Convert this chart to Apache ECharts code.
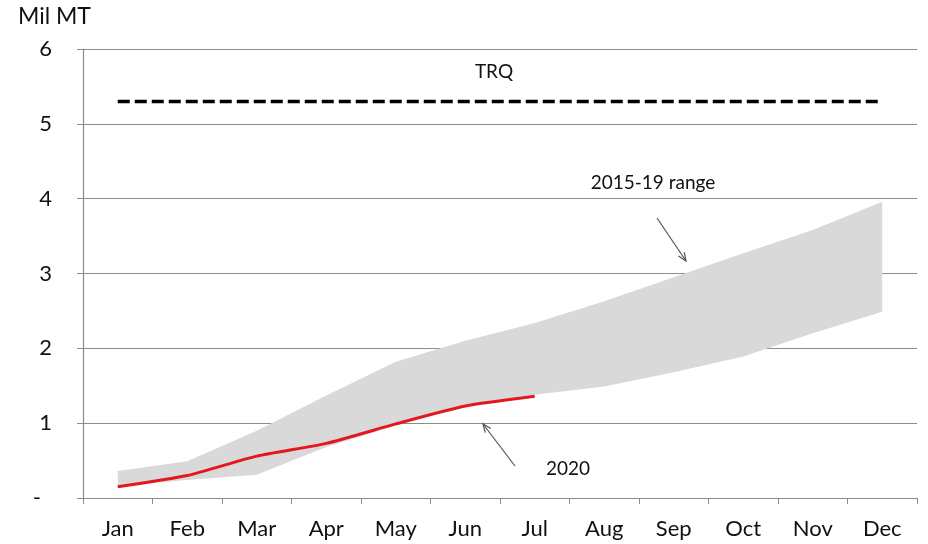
<!DOCTYPE html>
<html>
<head>
<meta charset="utf-8">
<script src="https://cdn.jsdelivr.net/npm/echarts@6/dist/echarts.min.js"></script>
<style>html,body{margin:0;padding:0;background:#fff;}#c{width:928px;height:544px;}</style>
</head>
<body>
<div id="c"></div>
<script>
const months = ['Jan','Feb','Mar','Apr','May','Jun','Jul','Aug','Sep','Oct','Nov','Dec'];
const rangeLow  = [0.16, 0.24, 0.31, 0.68, 0.97, 1.25, 1.38, 1.49, 1.68, 1.89, 2.20, 2.49];
const rangeHigh = [0.36, 0.49, 0.90, 1.37, 1.82, 2.10, 2.34, 2.63, 2.95, 3.27, 3.58, 3.96];
const y2020 = [0.15, 0.30, 0.56, 0.73, 0.99, 1.23, 1.36];
const trq = [5.3, 5.3, 5.3, 5.3, 5.3, 5.3, 5.3, 5.3, 5.3, 5.3, 5.3, 5.3];
const yTicks = [0, 1, 2, 3, 4, 5, 6];

const rangeDiff = rangeHigh.map((v, i) => +(v - rangeLow[i]).toFixed(3));
const FONT = 'Lato';

const chart = echarts.init(document.getElementById('c'), null, {renderer: 'canvas'});
chart.setOption({
  animation: false,
  backgroundColor: '#fff',
  textStyle: {fontFamily: FONT},
  grid: {left: 83, right: 11, top: 49, bottom: 46},
  xAxis: {
    type: 'category',
    data: months,
    boundaryGap: true,
    axisLine: {lineStyle: {color: '#8c8c8c', width: 1.2}},
    axisTick: {show: true, length: 6, inside: false, lineStyle: {color: '#8c8c8c'}},
    axisLabel: {color: '#111', fontSize: 22, margin: 20, fontFamily: FONT}
  },
  yAxis: {
    type: 'value',
    min: yTicks[0], max: yTicks[yTicks.length - 1], interval: 1,
    axisLine: {show: true, lineStyle: {color: '#8c8c8c', width: 1.2}},
    axisTick: {show: true, length: 6, lineStyle: {color: '#8c8c8c'}},
    axisLabel: {color: '#111', fontSize: 22, margin: 31, fontFamily: FONT,
      formatter: v => v === 0 ? '-\u2002' : String(v)},
    splitLine: {show: true, lineStyle: {color: '#8c8c8c', width: 1.2}}
  },
  series: [
    {name: 'low', type: 'line', stack: 'band', data: rangeLow, symbol: 'none',
      lineStyle: {opacity: 0}, areaStyle: {opacity: 0}, z: 2},
    {name: '2015-19 range', type: 'line', stack: 'band', data: rangeDiff, symbol: 'none',
      lineStyle: {opacity: 0}, areaStyle: {color: '#d9d9d9', opacity: 1}, z: 2},
    {name: 'TRQ', type: 'line', data: trq, symbol: 'none',
      lineStyle: {color: '#000', width: 3.5, type: [12, 5]}, z: 3},
    {name: '2020', type: 'line', data: y2020, symbol: 'none', smooth: 0.2,
      lineStyle: {color: '#e3171d', width: 3}, z: 4}
  ]
});

function arrow(x1, y1, x2, y2) {
  const ang = Math.atan2(y2 - y1, x2 - x1);
  const L = 9, a = 0.4;
  const p1 = [x2 - L * Math.cos(ang - a), y2 - L * Math.sin(ang - a)];
  const p2 = [x2 - L * Math.cos(ang + a), y2 - L * Math.sin(ang + a)];
  return [
    {type: 'line', shape: {x1, y1, x2, y2}, style: {stroke: '#555', lineWidth: 1.2}, z: 10},
    {type: 'polyline', shape: {points: [p1, [x2, y2], p2]}, style: {stroke: '#555', lineWidth: 1.2, fill: null}, z: 10}
  ];
}

chart.setOption({
  graphic: [
    {type: 'text', left: 18, top: 5, style: {text: 'Mil MT', fontSize: 23, fill: '#111', fontFamily: FONT}},
    {type: 'text', x: 494, y: 72, style: {text: 'TRQ', fontSize: 19, fill: '#111', fontFamily: FONT, align: 'center', verticalAlign: 'middle'}, z: 10},
    {type: 'text', x: 653, y: 183, style: {text: '2015-19 range', fontSize: 19, fill: '#111', fontFamily: FONT, align: 'center', verticalAlign: 'middle'}, z: 10},
    {type: 'text', x: 568, y: 469, style: {text: '2020', fontSize: 19, fill: '#111', fontFamily: FONT, align: 'center', verticalAlign: 'middle'}, z: 10},
    ...arrow(657, 218, 686, 261),
    ...arrow(515, 466, 483, 424)
  ]
});
</script>
</body>
</html>
